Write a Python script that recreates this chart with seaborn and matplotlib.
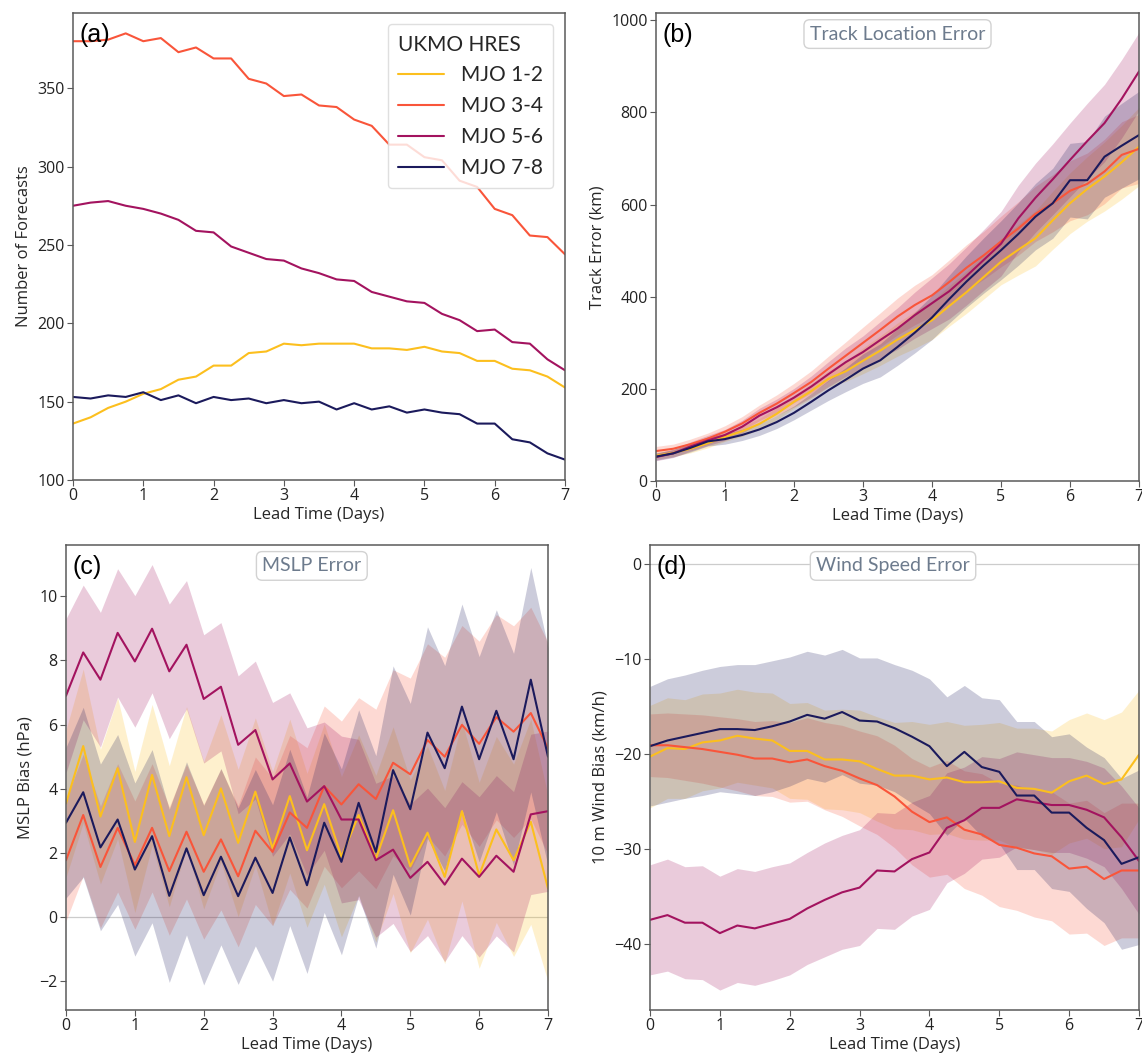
import numpy as np
import pandas as pd
import matplotlib
matplotlib.use("Agg")
import matplotlib.pyplot as plt
import seaborn as sns

# ---------------- data ----------------
lead = [0, 0.25, 0.5, 0.75, 1, 1.25, 1.5, 1.75, 2, 2.25, 2.5, 2.75, 3, 3.25, 3.5,
        3.75, 4, 4.25, 4.5, 4.75, 5, 5.25, 5.5, 5.75, 6, 6.25, 6.5, 6.75, 7]
phases = ["MJO 1-2", "MJO 3-4", "MJO 5-6", "MJO 7-8"]
colors = ["#fcbf1e", "#f9553a", "#a3135f", "#1b1a5c"]

# (a) number of forecasts
n_12 = [136, 140, 146, 150, 155, 158, 164, 166, 173, 173, 181, 182, 187, 186, 187,
        187, 187, 184, 184, 183, 185, 182, 181, 176, 176, 171, 170, 166, 159]
n_34 = [380, 380, 381, 385, 380, 382, 373, 376, 369, 369, 356, 353, 345, 346, 339,
        338, 330, 326, 314, 314, 306, 304, 291, 287, 273, 269, 256, 255, 244]
n_56 = [275, 277, 278, 275, 273, 270, 266, 259, 258, 249, 245, 241, 240, 235, 232,
        228, 227, 220, 217, 214, 213, 206, 202, 195, 196, 188, 187, 177, 170]
n_78 = [153, 152, 154, 153, 156, 151, 154, 149, 153, 151, 152, 149, 151, 149, 150,
        145, 149, 145, 147, 143, 145, 143, 142, 136, 136, 126, 124, 117, 113]

# (b) track error (km) mean and half-width of shaded range
trk_12 = [55, 61, 70, 82, 96, 108, 124, 146, 172, 195, 222, 238, 261, 283, 307,
          328, 349, 380, 410, 443, 476, 502, 527, 566, 603, 634, 661, 692, 726]
trk_34 = [65, 70, 80, 92, 107, 125, 148, 168, 191, 215, 244, 272, 300, 328, 357,
          382, 403, 432, 463, 490, 520, 548, 580, 603, 630, 645, 672, 708, 721]
trk_56 = [52, 60, 75, 88, 100, 118, 142, 160, 181, 205, 232, 258, 280, 306, 331,
          360, 386, 412, 445, 480, 515, 570, 615, 655, 697, 738, 777, 830, 889]
trk_78 = [53, 60, 72, 86, 91, 100, 112, 128, 148, 172, 197, 220, 244, 262, 291,
          322, 355, 395, 433, 468, 501, 536, 574, 603, 653, 653, 704, 728, 751]
trk_hw_12 = [8, 8, 9, 10, 10, 11, 12, 13, 14, 16, 18, 22, 28, 32, 36, 40, 42, 44,
             46, 48, 50, 55, 60, 63, 66, 70, 75, 80, 85]
trk_hw_34 = [10, 10, 11, 12, 13, 15, 17, 19, 21, 24, 27, 30, 34, 37, 40, 43, 45,
             48, 50, 52, 55, 58, 60, 62, 65, 67, 70, 72, 75]
trk_hw_56 = [8, 9, 10, 11, 12, 14, 16, 18, 20, 23, 27, 31, 35, 40, 45, 50, 55, 60,
             63, 66, 70, 72, 75, 77, 80, 82, 84, 85, 85]
trk_hw_78 = [8, 8, 9, 10, 11, 12, 13, 14, 15, 18, 22, 26, 32, 36, 40, 44, 48, 52,
             56, 60, 64, 68, 72, 76, 80, 84, 88, 92, 95]

# (c) MSLP bias (hPa)
mslp_12 = [3.54, 5.33, 3.13, 4.64, 2.34, 4.43, 2.52, 4.36, 2.55, 4.01, 2.31, 3.91,
           2.14, 3.77, 2.08, 3.52, 1.88, 3.18, 1.82, 3.33, 1.58, 2.63, 1.25, 3.30,
           1.30, 2.73, 1.77, 2.97, 0.89]
mslp_34 = [1.77, 3.18, 1.56, 2.78, 1.62, 2.78, 1.43, 2.66, 1.41, 2.42, 1.27, 2.69,
           2.03, 3.26, 2.78, 4.08, 3.51, 4.14, 3.68, 4.81, 4.45, 5.52, 5.00, 5.99,
           5.40, 6.23, 5.78, 6.36, 5.26]
mslp_56 = [6.90, 8.25, 7.40, 8.86, 7.97, 8.99, 7.66, 8.49, 6.80, 7.18, 5.37, 5.83,
           4.29, 4.79, 3.60, 4.08, 3.04, 3.04, 1.77, 2.10, 1.22, 1.72, 1.01, 1.82,
           1.25, 1.91, 1.41, 3.20, 3.30]
mslp_78 = [2.94, 3.89, 2.17, 3.04, 1.48, 2.52, 0.66, 2.14, 0.68, 1.88, 0.65, 1.85,
           0.75, 2.48, 0.99, 2.94, 1.72, 3.56, 2.03, 4.58, 3.36, 5.75, 4.64, 6.56,
           4.92, 6.43, 4.92, 7.40, 5.00]
mslp_hw_12 = [2.3, 2.4, 2.1, 2.2, 2.2, 2.2, 2.2, 2.2, 2.3, 2.3, 2.3, 2.3, 2.4, 2.4,
              2.4, 2.5, 2.5, 2.5, 2.6, 2.6, 2.7, 2.7, 2.7, 2.8, 2.9, 2.9, 3.0, 3.2, 2.9]
mslp_hw_34 = [1.9, 1.9, 1.9, 2.0, 2.0, 2.0, 2.0, 2.1, 2.1, 2.2, 2.2, 2.3, 2.3, 2.4,
              2.5, 2.5, 2.6, 2.7, 2.8, 2.9, 3.0, 3.0, 3.1, 3.1, 3.2, 3.2, 3.3, 3.3, 3.3]
mslp_hw_56 = [2.4, 2.1, 2.1, 2.0, 2.05, 2.0, 2.1, 2.0, 2.0, 2.0, 2.15, 2.15, 2.4,
              2.2, 2.3, 2.0, 2.6, 2.5, 2.4, 2.3, 2.3, 2.3, 2.4, 2.4, 2.5, 2.5, 2.5,
              2.5, 2.5]
mslp_hw_78 = [2.35, 2.65, 2.6, 2.65, 2.7, 2.7, 2.7, 2.7, 2.8, 2.75, 2.75, 2.75, 2.75,
              2.75, 2.75, 2.8, 2.9, 2.9, 3.0, 3.25, 3.3, 3.3, 3.2, 3.2, 3.2, 3.15,
              3.3, 3.5, 3.4]

# (d) 10 m wind bias (km/h)
wind_12 = [-20.3, -19.4, -19.5, -18.8, -18.6, -18.1, -18.4, -18.6, -19.7, -19.7,
           -20.6, -20.6, -20.8, -21.6, -22.3, -22.3, -22.7, -22.5, -23.0, -23.0,
           -22.9, -23.6, -23.7, -24.1, -22.9, -22.3, -23.2, -22.7, -20.1]
wind_34 = [-19.1, -19.1, -19.3, -19.5, -19.8, -20.1, -20.5, -20.5, -20.9, -20.6,
           -21.3, -21.8, -22.6, -23.3, -24.5, -26.1, -27.2, -26.7, -28.0, -28.5,
           -29.6, -29.9, -30.5, -30.8, -32.1, -31.9, -33.2, -32.3, -32.3]
wind_56 = [-37.5, -37.0, -37.8, -37.8, -38.9, -38.1, -38.4, -37.9, -37.4, -36.3,
           -35.4, -34.6, -34.1, -32.3, -32.4, -31.1, -30.4, -27.8, -27.0, -25.7,
           -25.7, -24.8, -25.1, -25.4, -25.4, -25.9, -26.7, -28.8, -31.3]
wind_78 = [-19.2, -18.6, -18.2, -17.8, -17.4, -17.4, -17.5, -17.1, -16.6, -15.9,
           -16.3, -15.6, -16.5, -16.6, -17.3, -18.2, -19.2, -21.3, -19.8, -21.4,
           -21.9, -24.4, -24.4, -26.2, -26.2, -27.8, -29.1, -31.6, -30.9]
wind_hw_12 = [5.4, 5.3, 5.2, 5.1, 5.0, 4.9, 4.9, 5.0, 5.0, 5.1, 5.2, 5.3, 5.4, 5.5,
              5.6, 5.7, 5.8, 5.9, 6.0, 6.1, 6.2, 6.3, 6.4, 6.5, 6.5, 6.6, 6.8, 7.1, 6.8]
wind_hw_34 = [3.3, 3.4, 3.5, 3.6, 3.7, 3.8, 3.9, 4.0, 4.2, 4.4, 4.6, 4.8, 5.0, 5.2,
              5.4, 5.6, 5.8, 6.0, 6.2, 6.4, 6.5, 6.6, 6.7, 6.8, 6.9, 7.0, 7.0, 7.1, 7.1]
wind_hw_56 = [5.8, 5.9, 5.9, 6.0, 6.0, 6.0, 6.0, 6.0, 5.9, 5.9, 6.0, 6.0, 6.1, 6.1,
              6.1, 6.0, 6.0, 5.8, 5.6, 5.4, 5.2, 5.0, 5.0, 5.0, 5.0, 5.1, 5.2, 5.4, 5.6]
wind_hw_78 = [6.3, 6.5, 6.5, 6.6, 6.6, 6.8, 6.9, 6.9, 6.8, 6.7, 6.7, 6.6, 6.6, 6.7,
              6.7, 7.0, 7.1, 7.3, 7.0, 7.3, 7.6, 7.8, 7.8, 8.0, 8.3, 8.5, 8.7, 9.0, 9.2]

# ---------------- style ----------------
sns.set_style("white")
plt.rcParams["font.family"] = ["Open Sans", "DejaVu Sans"]
plt.rcParams["axes.edgecolor"] = "#5a5a5a"
plt.rcParams["axes.linewidth"] = 1.1
plt.rcParams["xtick.color"] = "#5a5a5a"
plt.rcParams["ytick.color"] = "#5a5a5a"
plt.rcParams["xtick.labelcolor"] = "#222222"
plt.rcParams["ytick.labelcolor"] = "#222222"
plt.rcParams["xtick.major.size"] = 4
plt.rcParams["ytick.major.size"] = 4
plt.rcParams["xtick.bottom"] = True
plt.rcParams["ytick.left"] = True

W, H = 1142, 1057
fig = plt.figure(figsize=(W / 100, H / 100), dpi=100)


def make_ax(l, t, r, b):
    return fig.add_axes([l / W, 1 - b / H, (r - l) / W, (b - t) / H])


ax_a = make_ax(73, 13, 565, 480)
ax_b = make_ax(656, 13, 1139, 481)
ax_c = make_ax(66, 545, 548, 1010)
ax_d = make_ax(650, 545, 1139, 1010)

palette = dict(zip(phases, colors))


def long_df(series):
    frames = []
    for ph, vals in zip(phases, series):
        frames.append(pd.DataFrame({"lead": lead, "value": vals, "phase": ph}))
    return pd.concat(frames, ignore_index=True)


def draw(ax, means, hws, legend=False):
    df = long_df(means)
    if hws is not None:
        for ph, m, hw in zip(phases, means, hws):
            m = np.asarray(m, float)
            hw = np.asarray(hw, float)
            ax.fill_between(lead, m - hw, m + hw, color=palette[ph], alpha=0.22,
                            linewidth=0)
    sns.lineplot(data=df, x="lead", y="value", hue="phase", palette=palette,
                 hue_order=phases, linewidth=1.5, ax=ax, legend=legend)


draw(ax_a, [n_12, n_34, n_56, n_78], None, legend=True)
draw(ax_b, [trk_12, trk_34, trk_56, trk_78],
     [trk_hw_12, trk_hw_34, trk_hw_56, trk_hw_78])
draw(ax_c, [mslp_12, mslp_34, mslp_56, mslp_78],
     [mslp_hw_12, mslp_hw_34, mslp_hw_56, mslp_hw_78])
draw(ax_d, [wind_12, wind_34, wind_56, wind_78],
     [wind_hw_12, wind_hw_34, wind_hw_56, wind_hw_78])

ax_c.axhline(0, color="#cccccc", lw=0.9, zorder=0.5)
ax_d.axhline(0, color="#cccccc", lw=0.9, zorder=0.5)

ax_a.set_ylim(100, 398)
ax_a.set_yticks([100, 150, 200, 250, 300, 350])
ax_b.set_ylim(0, 1016)
ax_b.set_yticks([0, 200, 400, 600, 800, 1000])
ax_c.set_ylim(-2.9, 11.6)
ax_c.set_yticks([-2, 0, 2, 4, 6, 8, 10])
ax_d.set_ylim(-47, 2)
ax_d.set_yticks([0, -10, -20, -30, -40])

ylabels = ["Number of Forecasts", "Track Error (km)", "MSLP Bias (hPa)",
           "10 m Wind Bias (km/h)"]
letters = ["(a)", "(b)", "(c)", "(d)"]
for ax, yl, let in zip([ax_a, ax_b, ax_c, ax_d], ylabels, letters):
    ax.set_xlim(0, 7)
    ax.set_xticks(range(8))
    ax.set_xlabel("Lead Time (Days)", fontsize=12, labelpad=2)
    ax.set_ylabel(yl, fontsize=12, labelpad=4)
    ax.tick_params(labelsize=11.5, pad=2)
    ax.text(0.013, 0.978, let, transform=ax.transAxes, ha="left", va="top",
            fontsize=18, family=["Liberation Sans", "DejaVu Sans"], color="black")

box = dict(boxstyle="round,pad=0.3", facecolor="white", edgecolor="#d2d2d2",
           linewidth=1.0)
for ax, title, xc in [(ax_b, "Track Location Error", 0.5),
                      (ax_c, "MSLP Error", 0.51),
                      (ax_d, "Wind Speed Error", 0.497)]:
    ax.text(xc, 0.955, title, transform=ax.transAxes, ha="center", va="center",
            fontsize=14, color="#6d7b8d", family=["Lato", "DejaVu Sans"],
            bbox=box)

leg = ax_a.legend(title="UKMO HRES", loc="upper right",
                  bbox_to_anchor=(0.976, 0.976), borderaxespad=0,
                  prop={"family": ["Lato", "DejaVu Sans"], "size": 15},
                  title_fontproperties={"family": ["Lato", "DejaVu Sans"],
                                        "size": 15},
                  handlelength=2.2, handletextpad=0.8, labelspacing=0.52,
                  borderpad=0.5,
                  frameon=True, fancybox=True, framealpha=0.8,
                  edgecolor="#d8d8d8")
leg._legend_box.align = "left"

fig.savefig("out.png", dpi=100)
